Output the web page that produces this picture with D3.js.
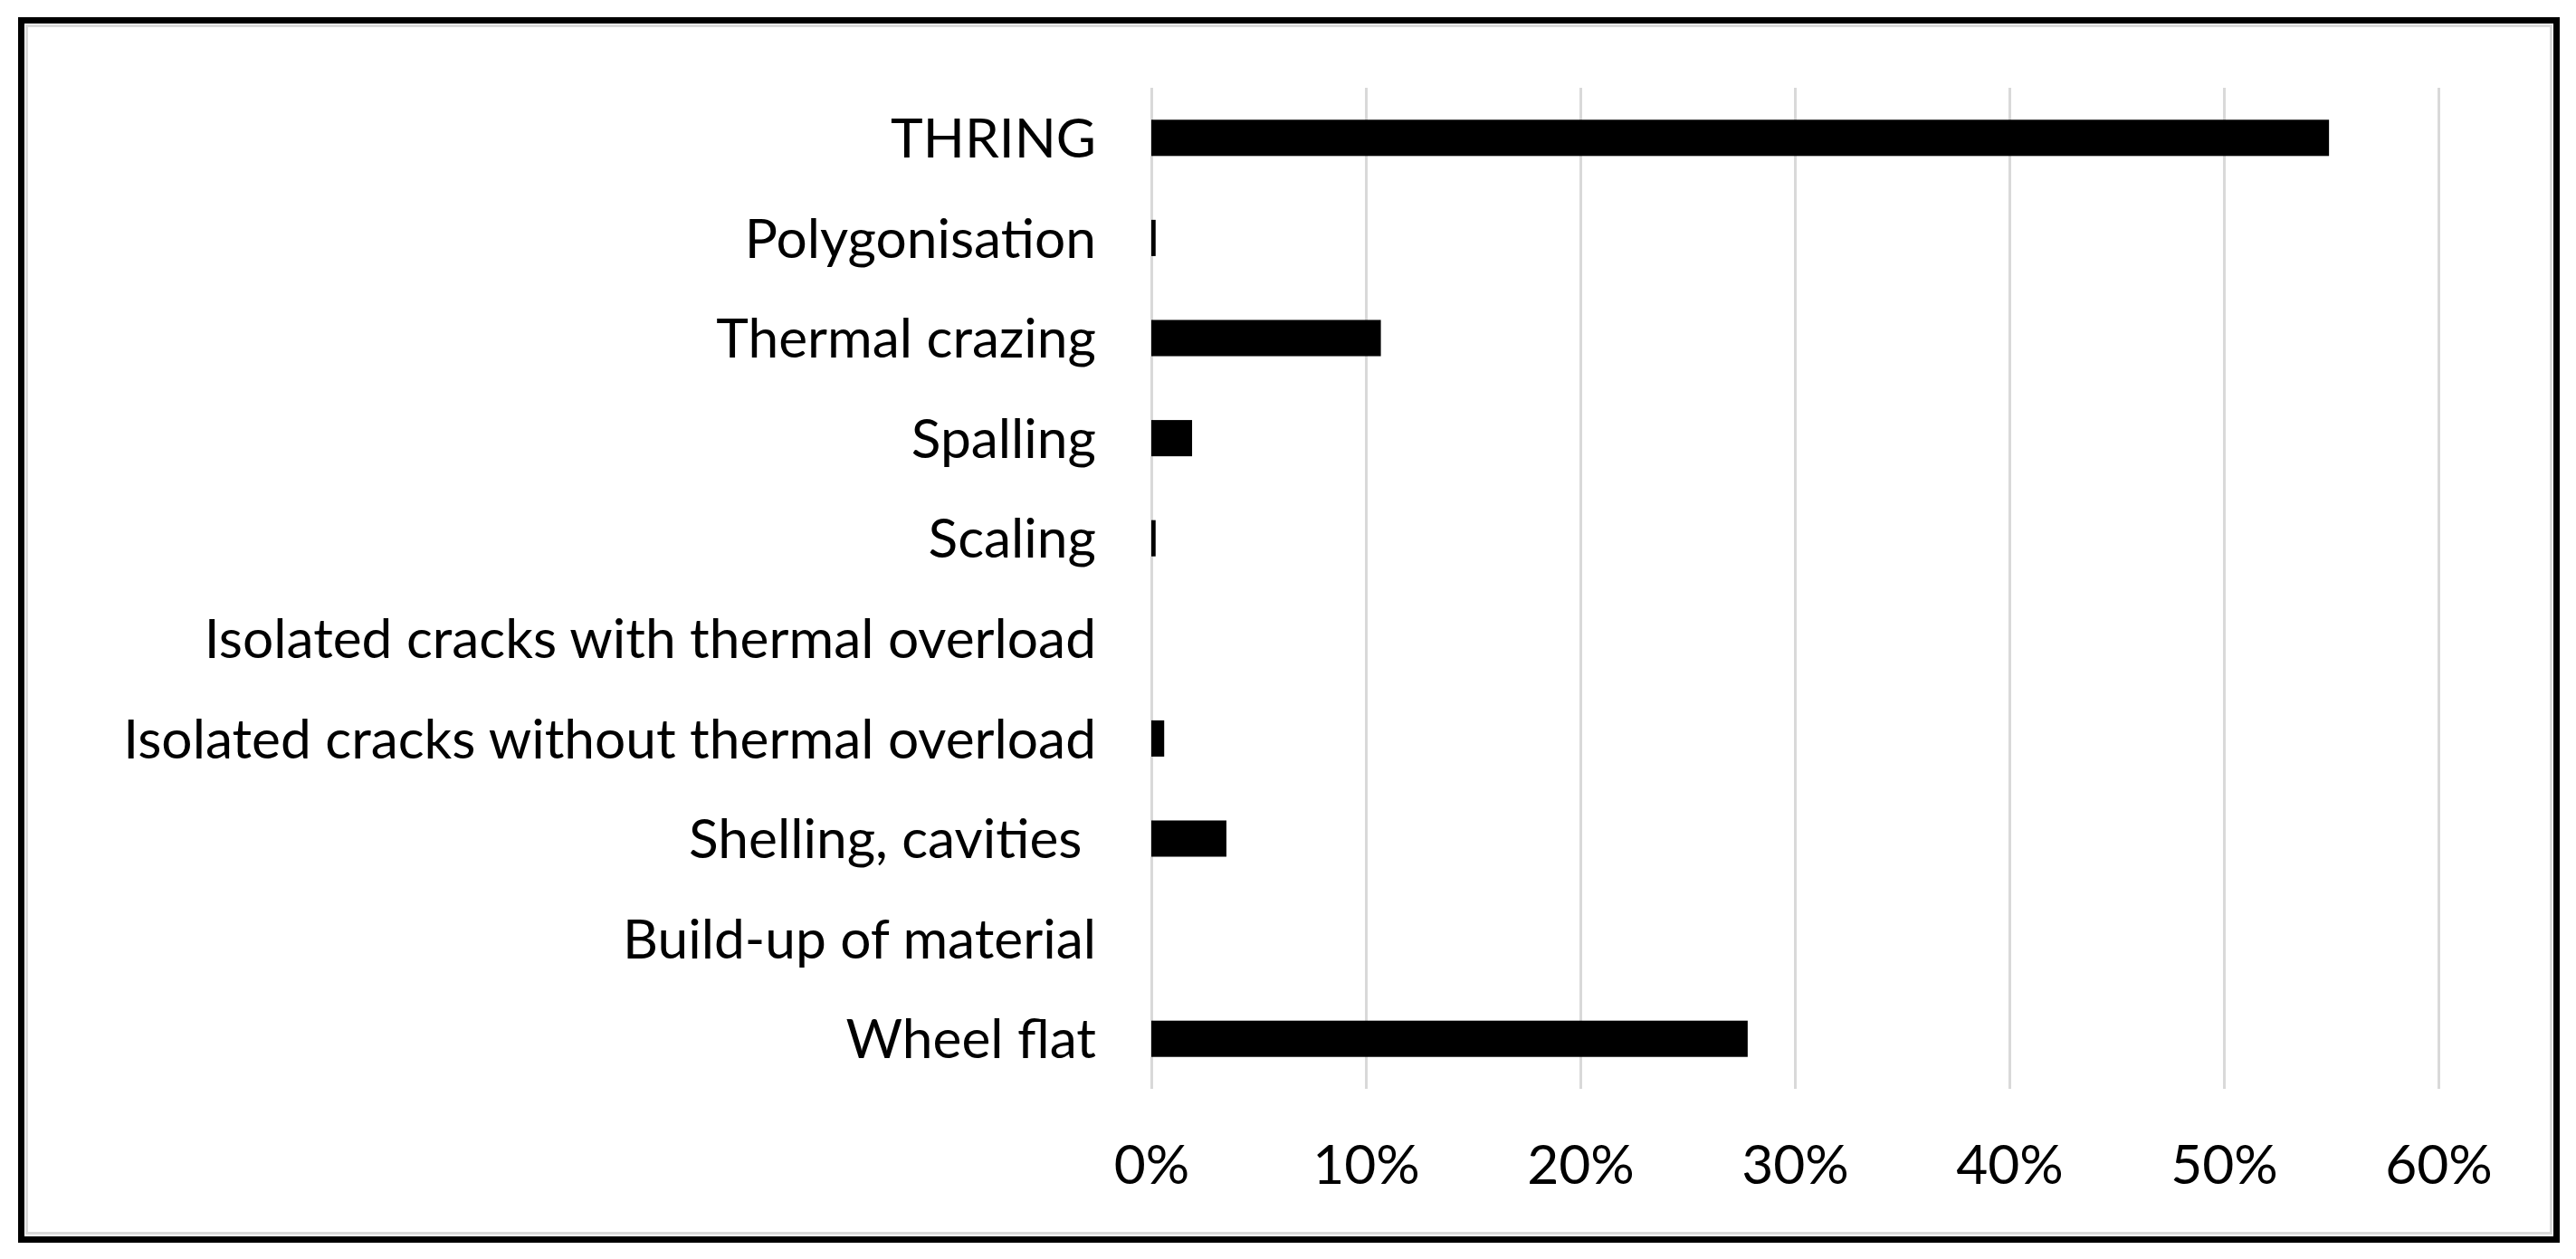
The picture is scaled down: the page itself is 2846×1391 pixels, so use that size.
<!DOCTYPE html>
<html>
<head>
<meta charset="utf-8">
<script src="https://cdn.jsdelivr.net/npm/d3@7"></script>
<style>
  body { margin: 0; background: #fff; }
  text { font-family: Lato, "Open Sans", sans-serif; fill: #000; }
</style>
</head>
<body>
<script>
// chart data (top to bottom)
const categories = [
  "THRING",
  "Polygonisation",
  "Thermal crazing",
  "Spalling",
  "Scaling",
  "Isolated cracks with thermal overload",
  "Isolated cracks without thermal overload",
  "Shelling, cavities ",
  "Build-up of material",
  "Wheel flat"
];
const shares = [0.549, 0.002, 0.107, 0.019, 0.002, 0, 0.006, 0.035, 0, 0.278];
const xTicks = [0, 0.1, 0.2, 0.3, 0.4, 0.5, 0.6];

const width = 2846;
const height = 1391;

// plot area
const plotLeft = 1272, plotRight = 2694, plotTop = 97, plotBottom = 1203;
const labelWidth = 1075; // width of the longest category label

const svg = d3.select('body')
  .append('svg')
  .attr('width', width)
  .attr('height', height);

// frame: black outer border and a light gray inner line
svg.append('rect')
  .attr('x', 23.5).attr('y', 22.5)
  .attr('width', 2801).attr('height', 1347)
  .attr('fill', 'none')
  .attr('stroke', '#000')
  .attr('stroke-width', 7);
svg.append('rect')
  .attr('x', 29.5).attr('y', 28.5)
  .attr('width', 2789).attr('height', 1334)
  .attr('fill', 'none')
  .attr('stroke', '#d9d9d9')
  .attr('stroke-width', 3);

const x = d3.scaleLinear()
  .domain([0, 0.6])
  .range([plotLeft, plotRight]);

const y = d3.scaleBand()
  .domain(categories)
  .range([plotTop, plotBottom])
  .paddingInner(0.638)
  .paddingOuter(0.319);

// gridlines + percent labels
const xAxis = svg.append('g')
  .attr('transform', `translate(0,${plotBottom})`)
  .call(d3.axisBottom(x)
    .tickValues(xTicks)
    .tickSize(-(plotBottom - plotTop))
    .tickFormat(d3.format('.0%')));
xAxis.select('.domain').remove();
xAxis.selectAll('line')
  .attr('stroke', '#d9d9d9')
  .attr('stroke-width', 3);

// category labels
const yAxis = svg.append('g')
  .attr('transform', `translate(${plotLeft},0)`)
  .call(d3.axisLeft(y).tickSize(0).tickPadding(61));
yAxis.select('.domain').remove();

const yText = yAxis.selectAll('text')
  .style('white-space', 'pre')
  .attr('font-size', 58)
  .attr('dy', '0.36em');

// fit font size so the longest label matches the reference width
let maxLen = 0;
yText.each(function() { maxLen = Math.max(maxLen, this.getComputedTextLength()); });
const fontSize = 58 * labelWidth / maxLen;
yText.attr('font-size', fontSize);

xAxis.selectAll('text')
  .attr('font-size', fontSize)
  .attr('y', 105)
  .attr('dy', 0);

// bars
svg.append('g')
  .selectAll('rect')
  .data(categories)
  .join('rect')
  .attr('x', x(0))
  .attr('y', (d) => y(d))
  .attr('width', (d, i) => x(shares[i]) - x(0))
  .attr('height', y.bandwidth())
  .attr('fill', '#000');
</script>
</body>
</html>
